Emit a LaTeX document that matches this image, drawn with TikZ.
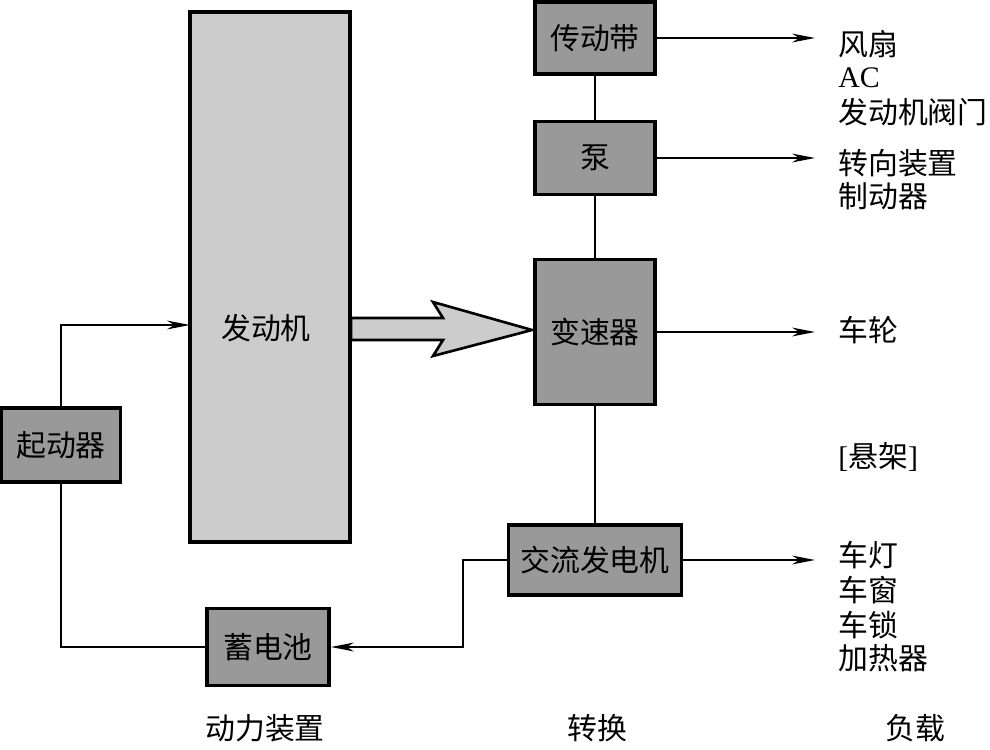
\documentclass[tikz,border=0pt]{standalone}
\usepackage{fontspec}
\setmainfont{Liberation Serif}
\newfontfamily\cjk{Noto Sans CJK SC}
\usetikzlibrary{arrows.meta}

\begin{document}
\begin{tikzpicture}[x=0.02cm,y=-0.02cm,
  txt/.style={font={\cjk\fontsize{17}{20}\selectfont},inner sep=0pt},
  box/.style={draw,line width=2.2pt,fill=black!40,txt},
  conn/.style={line width=1.1pt},
  tip/.style={-{Stealth[length=13pt,width=5pt,inset=4pt]}},
  load/.style={txt,anchor=west}]
\useasboundingbox (0,0) rectangle (990,750);
% power
\node[draw,line width=2.2pt,fill=black!20,minimum width=3.2cm,minimum height=10.6cm] (eng) at (270,277) {};
\node[txt] (englbl) at (266,328) {发动机};
\node[box,minimum width=2.38cm,minimum height=1.48cm] (start) at (61,445) {起动器};
\node[box,minimum width=2.44cm,minimum height=1.54cm] (batt) at (268,647) {蓄电池};
% conversion
\node[box,minimum width=2.4cm,minimum height=1.44cm] (belt) at (595,38) {传动带};
\node[box,minimum width=2.4cm,minimum height=1.46cm] (pump) at (595,158) {泵};
\node[box,minimum width=2.4cm,minimum height=2.9cm] (gear) at (595,332) {变速器};
\node[box,minimum width=3.46cm,minimum height=1.4cm] (alt) at (595,560) {交流发电机};
% loads
\node[load] (fan) at (838,44) {风扇};
\node[load] (ac) at (838,78) {\rmfamily AC};
\node[load] (valve) at (838,112) {发动机阀门};
\node[load] (steer) at (838,163) {转向装置};
\node[load] (brake) at (838,196) {制动器};
\node[load] (wheel) at (838,330) {车轮};
\node[load] (susp) at (838,457) {{\rmfamily[}悬架{\rmfamily]}};
\node[load] (lamp) at (838,555) {车灯};
\node[load] (window) at (838,590) {车窗};
\node[load] (lock) at (838,625) {车锁};
\node[load] (heater) at (838,658) {加热器};
% column titles
\node[txt] (ttlpower) at (265,728) {动力装置};
\node[txt] (ttlconv) at (597,728) {转换};
\node[txt] (ttlload) at (915,728) {负载};
% connectors
\coordinate (engin) at (190,325);
\coordinate (altbend) at (463,560);
\coordinate (fanend) at (815,38);
\coordinate (steerend) at (815,158);
\coordinate (wheelend) at (815,332);
\coordinate (lampend) at (815,560);
\draw[conn] (belt) -- (pump);
\draw[conn] (pump) -- (gear);
\draw[conn] (gear) -- (alt);
\draw[conn,tip] (start) |- (engin);
\draw[conn] (start) |- (batt);
\draw[conn,tip] (alt) -- (altbend) |- (batt);
\draw[conn,tip] (belt) -- (fanend);
\draw[conn,tip] (pump) -- (steerend);
\draw[conn,tip] (gear) -- (wheelend);
\draw[conn,tip] (alt) -- (lampend);
% big arrow engine -> gearbox
\draw[line width=1.5pt,fill=black!20,line join=miter]
  (351,318) -- (443,318) -- (433,302) -- (532,330) -- (433,356) -- (443,340) -- (351,340) -- cycle;
\end{tikzpicture}
\end{document}
